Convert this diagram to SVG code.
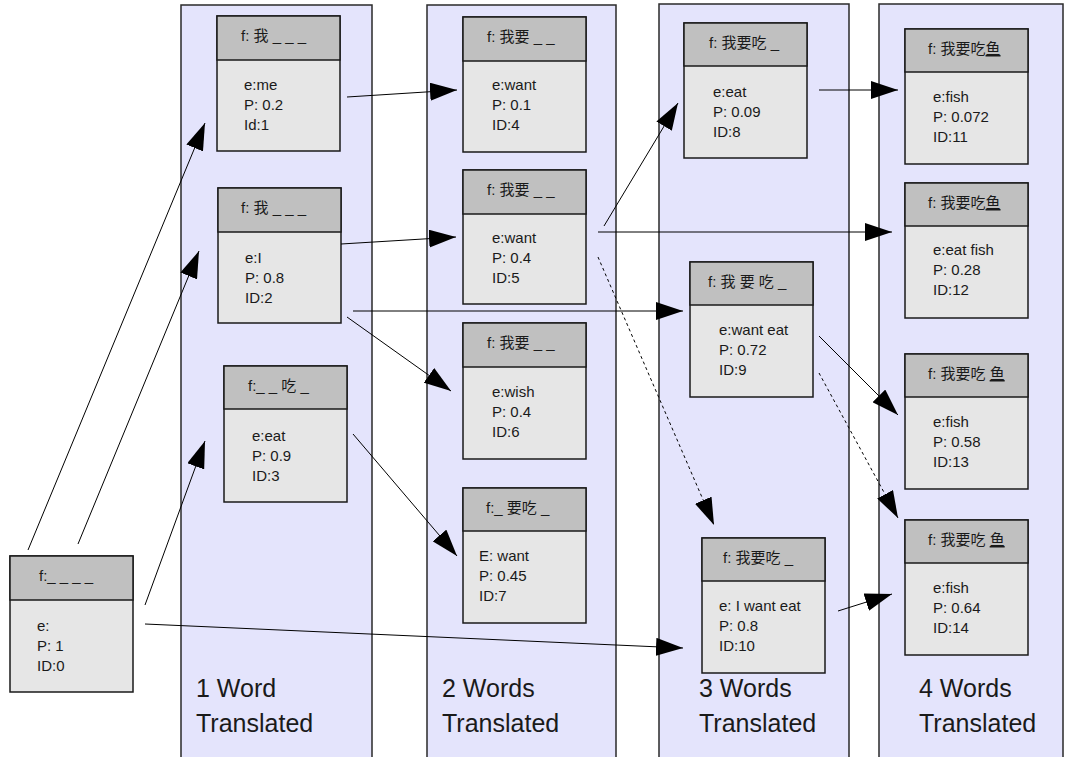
<svg xmlns="http://www.w3.org/2000/svg" width="1066" height="757" viewBox="0 0 1066 757">
<style>
text{font-family:"Liberation Sans","Noto Sans CJK SC",sans-serif;fill:#1a1a1a}
.panel{fill:#e4e4fc;stroke:#2a2a2a;stroke-width:1.5}
.hd{fill:#c0c0c0;stroke:#1a1a1a;stroke-width:1.5}
.bd{fill:#e6e6e6;stroke:#1a1a1a;stroke-width:1.5}
.t{font-size:15px}
.big{font-size:25px}
.c{stroke:#000;stroke-width:1;fill:none;marker-end:url(#ah)}
.d{stroke-dasharray:3,3}
.u{text-decoration:underline}
</style>
<defs>
<marker id="ah" markerUnits="userSpaceOnUse" markerWidth="28" markerHeight="18" refX="27" refY="9" orient="auto"><path d="M0,0 L27,9 L0,18 z" fill="#000"/></marker>
</defs>
<rect width="1066" height="757" fill="#fff"/>
<g id="panels">
<rect class="panel" x="181" y="5" width="191" height="760"/>
<rect class="panel" x="427" y="5" width="189" height="760"/>
<rect class="panel" x="659" y="4" width="190" height="760"/>
<rect class="panel" x="879" y="4" width="184" height="760"/>
<text class="big" x="196" y="697">1 Word</text><text class="big" x="196" y="732">Translated</text>
<text class="big" x="442" y="697">2 Words</text><text class="big" x="442" y="732">Translated</text>
<text class="big" x="699" y="697">3 Words</text><text class="big" x="699" y="732">Translated</text>
<text class="big" x="919" y="697">4 Words</text><text class="big" x="919" y="732">Translated</text>
</g>
<g id="n0"><rect class="bd" x="10" y="556" width="123" height="136"/><rect class="hd" x="10" y="556" width="123" height="44"/>
<text class="t" x="39" y="581">f:_ _ _ _</text><text class="t" x="37" y="631">e:</text><text class="t" x="37" y="651">P: 1</text><text class="t" x="37" y="671">ID:0</text></g>
<g id="n1"><rect class="bd" x="217" y="16" width="123" height="135"/><rect class="hd" x="217" y="16" width="123" height="44"/>
<text class="t" x="241" y="41">f: 我 _ _ _</text><text class="t" x="244" y="90">e:me</text><text class="t" x="244" y="110">P: 0.2</text><text class="t" x="244" y="130">Id:1</text></g>
<g id="n2"><rect class="bd" x="218" y="188" width="123" height="135"/><rect class="hd" x="218" y="188" width="123" height="44"/>
<text class="t" x="241" y="213">f: 我 _ _ _</text><text class="t" x="245" y="263">e:I</text><text class="t" x="245" y="283">P: 0.8</text><text class="t" x="245" y="303">ID:2</text></g>
<g id="n3"><rect class="bd" x="224" y="366" width="123" height="136"/><rect class="hd" x="224" y="366" width="123" height="43"/>
<text class="t" x="248" y="391">f:_ _ 吃 _</text><text class="t" x="252" y="441">e:eat</text><text class="t" x="252" y="461">P: 0.9</text><text class="t" x="252" y="481">ID:3</text></g>
<g id="n4"><rect class="bd" x="463" y="17" width="123" height="135"/><rect class="hd" x="463" y="17" width="123" height="44"/>
<text class="t" x="487" y="42">f: 我要 _ _</text><text class="t" x="492" y="90">e:want</text><text class="t" x="492" y="110">P: 0.1</text><text class="t" x="492" y="130">ID:4</text></g>
<g id="n5"><rect class="bd" x="463" y="170" width="123" height="134"/><rect class="hd" x="463" y="170" width="123" height="44"/>
<text class="t" x="487" y="195">f: 我要 _ _</text><text class="t" x="492" y="243">e:want</text><text class="t" x="492" y="263">P: 0.4</text><text class="t" x="492" y="283">ID:5</text></g>
<g id="n6"><rect class="bd" x="463" y="323" width="123" height="136"/><rect class="hd" x="463" y="323" width="123" height="44"/>
<text class="t" x="487" y="348">f: 我要 _ _</text><text class="t" x="492" y="397">e:wish</text><text class="t" x="492" y="417">P: 0.4</text><text class="t" x="492" y="437">ID:6</text></g>
<g id="n7"><rect class="bd" x="463" y="488" width="123" height="135"/><rect class="hd" x="463" y="488" width="123" height="43"/>
<text class="t" x="486" y="513">f:_ 要吃 _</text><text class="t" x="479" y="561">E: want</text><text class="t" x="479" y="581">P: 0.45</text><text class="t" x="479" y="601">ID:7</text></g>
<g id="n8"><rect class="bd" x="684" y="23" width="123" height="135"/><rect class="hd" x="684" y="23" width="123" height="43"/>
<text class="t" x="709" y="48">f: 我要吃 _</text><text class="t" x="713" y="97">e:eat</text><text class="t" x="713" y="117">P: 0.09</text><text class="t" x="713" y="137">ID:8</text></g>
<g id="n9"><rect class="bd" x="690" y="262" width="123" height="135"/><rect class="hd" x="690" y="262" width="123" height="43"/>
<text class="t" x="708" y="287">f: 我 要 吃 _</text><text class="t" x="719" y="335">e:want  eat</text><text class="t" x="719" y="355">P: 0.72</text><text class="t" x="719" y="375">ID:9</text></g>
<g id="n10"><rect class="bd" x="702" y="538" width="123" height="135"/><rect class="hd" x="702" y="538" width="123" height="43"/>
<text class="t" x="723" y="563">f: 我要吃  _</text><text class="t" x="719" y="611">e: I want eat</text><text class="t" x="719" y="631">P: 0.8</text><text class="t" x="719" y="651">ID:10</text></g>
<g id="n11"><rect class="bd" x="905" y="29" width="123" height="135"/><rect class="hd" x="905" y="29" width="123" height="43"/>
<text class="t" x="928" y="54">f: 我要吃<tspan class="u">鱼</tspan></text><text class="t" x="933" y="102">e:fish</text><text class="t" x="933" y="122">P: 0.072</text><text class="t" x="933" y="142">ID:11</text></g>
<g id="n12"><rect class="bd" x="905" y="183" width="123" height="135"/><rect class="hd" x="905" y="183" width="123" height="43"/>
<text class="t" x="928" y="208">f: 我要吃<tspan class="u">鱼</tspan></text><text class="t" x="933" y="255">e:eat fish</text><text class="t" x="933" y="275">P: 0.28</text><text class="t" x="933" y="295">ID:12</text></g>
<g id="n13"><rect class="bd" x="905" y="354" width="123" height="135"/><rect class="hd" x="905" y="354" width="123" height="43"/>
<text class="t" x="928" y="379">f: 我要吃 <tspan class="u">鱼</tspan></text><text class="t" x="933" y="427">e:fish</text><text class="t" x="933" y="447">P: 0.58</text><text class="t" x="933" y="467">ID:13</text></g>
<g id="n14"><rect class="bd" x="905" y="520" width="123" height="135"/><rect class="hd" x="905" y="520" width="123" height="43"/>
<text class="t" x="928" y="545">f: 我要吃 <tspan class="u">鱼</tspan></text><text class="t" x="933" y="593">e:fish</text><text class="t" x="933" y="613">P: 0.64</text><text class="t" x="933" y="633">ID:14</text></g>
<g id="connectors">
<line class="c" x1="28" y1="550" x2="205" y2="123"/>
<line class="c" x1="78" y1="544" x2="199" y2="251"/>
<line class="c" x1="145" y1="605" x2="205" y2="441"/>
<line class="c" x1="145" y1="624" x2="683" y2="648"/>
<line class="c" x1="347" y1="97" x2="457" y2="90"/>
<line class="c" x1="341" y1="244" x2="456" y2="237"/>
<line class="c" x1="353" y1="311" x2="683" y2="311"/>
<line class="c" x1="347" y1="317" x2="451" y2="391"/>
<line class="c" x1="353" y1="434" x2="457" y2="556"/>
<line class="c" x1="604" y1="226" x2="678" y2="103"/>
<line class="c" x1="598" y1="232" x2="892" y2="232"/>
<line class="c d" x1="598" y1="257" x2="714" y2="525"/>
<line class="c" x1="819" y1="90" x2="898" y2="90"/>
<line class="c" x1="819" y1="336" x2="898" y2="415"/>
<line class="c d" x1="819" y1="373" x2="898" y2="518"/>
<line class="c" x1="838" y1="611" x2="892" y2="594"/>
</g>
</svg>
